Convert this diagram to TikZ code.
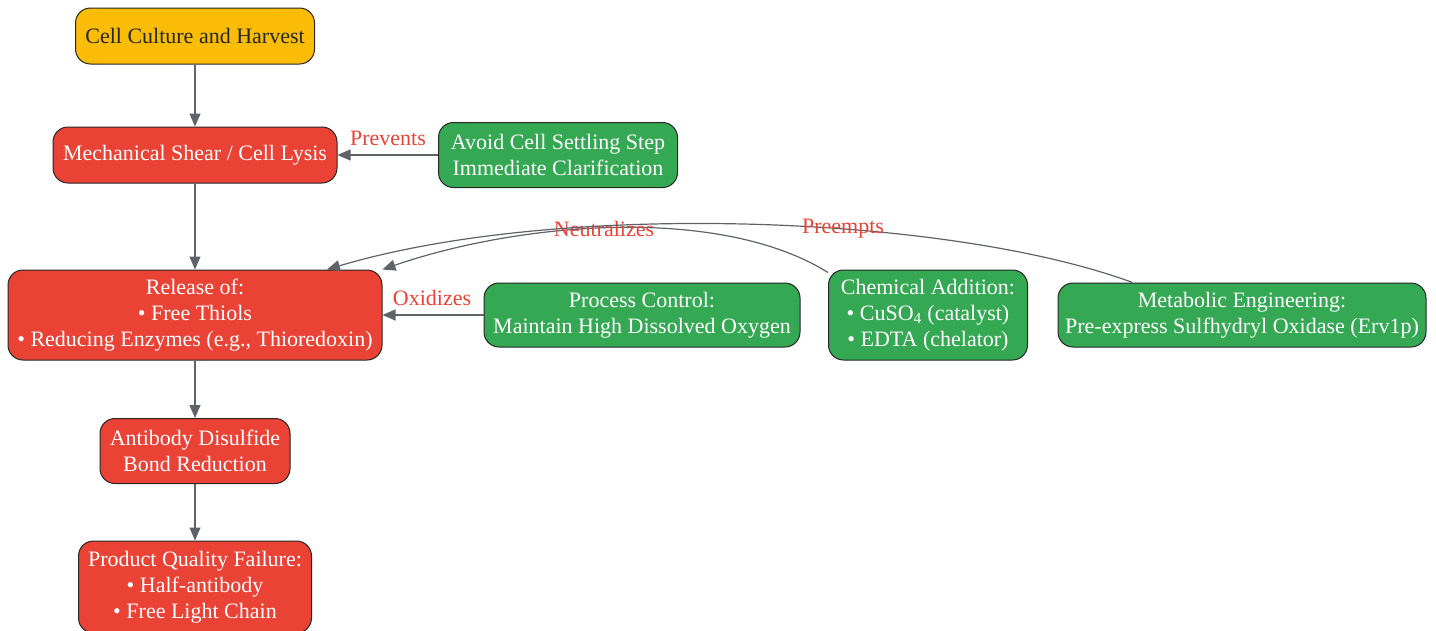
\documentclass[tikz,border=0pt]{standalone}
\usepackage{fontspec}
\setmainfont{Liberation Serif}
\usetikzlibrary{arrows.meta}
\definecolor{redbox}{HTML}{EA4335}
\definecolor{greenbox}{HTML}{34A853}
\definecolor{yellowbox}{HTML}{FBBC05}
\definecolor{edgegray}{HTML}{5F6368}
\tikzset{
    box/.style={draw=black!85, line width=1pt, rounded corners=15pt, align=center,
        inner sep=0pt, font=\fontsize{22}{26}\selectfont},
    redbox/.style={box, fill=redbox, text=white},
    greenbox/.style={box, fill=greenbox, text=white},
    link/.style={draw=edgegray, line width=1.2pt, -{Triangle[length=13pt,width=11pt]}},
    linklabel/.style={text=redbox, font=\fontsize{22}{26}\selectfont, inner sep=0pt}
}
\begin{document}
\begin{tikzpicture}[x=1pt,y=-1pt]
        \useasboundingbox (0,0) rectangle (1436,630);

        \node[box, fill=yellowbox, text=black!85, minimum width=239pt, minimum height=56pt] (harvest) at (195,36) {Cell Culture and Harvest};
        \node[redbox, minimum width=284pt, minimum height=56pt] (lysis) at (195,155) {Mechanical Shear / Cell Lysis};
        \node[greenbox, minimum width=239pt, minimum height=65pt] (settle) at (558,155) {Avoid Cell Settling Step\\Immediate Clarification};

        \node[redbox, minimum width=374pt, minimum height=90pt] (release) at (195,315) {Release of:\\\textbullet{} Free Thiols\\\textbullet{} Reducing Enzymes (e.g., Thioredoxin)};
        \node[greenbox, minimum width=316pt, minimum height=64pt] (oxygen) at (642,315) {Process Control:\\Maintain High Dissolved Oxygen};
        \node[greenbox, minimum width=199pt, minimum height=90pt] (chemical) at (928,315) {Chemical Addition:\\\textbullet{} CuSO\textsubscript{4} (catalyst)\\\textbullet{} EDTA (chelator)};
        \node[greenbox, minimum width=368pt, minimum height=64pt] (metabolic) at (1242,315) {Metabolic Engineering:\\Pre-express Sulfhydryl Oxidase (Erv1p)};

        \node[redbox, minimum width=190pt, minimum height=65pt] (reduction) at (195,451) {Antibody Disulfide\\Bond Reduction};
        \node[redbox, minimum width=233pt, minimum height=92pt] (failure) at (195,587) {Product Quality Failure:\\\textbullet{} Half-antibody\\\textbullet{} Free Light Chain};

        % main chain
        \draw[link] (harvest) -- (lysis);
        \draw[link] (lysis) -- (release);
        \draw[link] (release) -- (reduction);
        \draw[link] (reduction) -- (failure);

        % mitigations
        \draw[link] (settle) -- (lysis);
        \node[linklabel] (prevents) at (388,138) {Prevents};
        \draw[link] (oxygen) -- (release);
        \node[linklabel] (oxidizes) at (432,298) {Oxidizes};
        \draw[link] ([yshift=-3pt]chemical.north west) .. controls (720,205) and (520,222) .. (release.north east);
        \node[linklabel] (neutralizes) at (604,229) {Neutralizes};
        \draw[link] (metabolic.north west) ++(75,0) .. controls (950,215) and (560,200) .. ([xshift=132pt]release.north);
        \node[linklabel] (preempts) at (843,229) {Preempts};
\end{tikzpicture}
\end{document}
